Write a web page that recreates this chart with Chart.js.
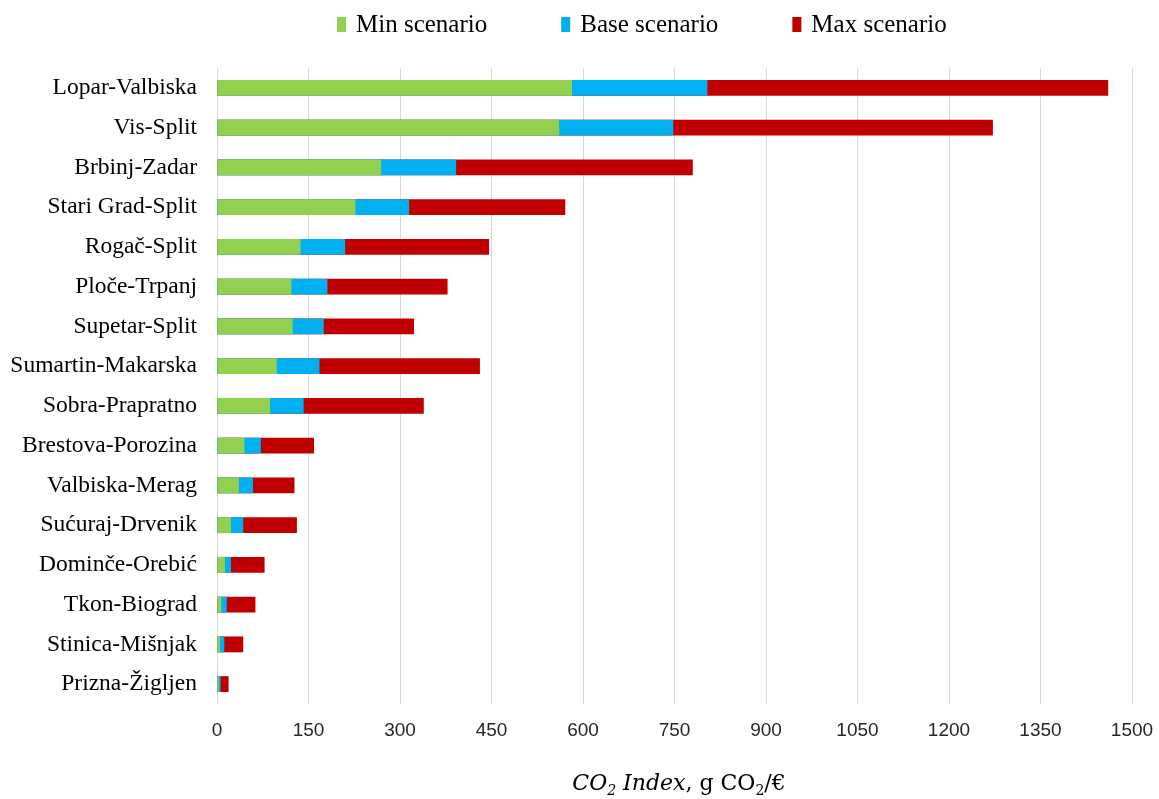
<!DOCTYPE html>
<html>
<head>
<meta charset="utf-8">
<script src="https://cdn.jsdelivr.net/npm/chart.js@4"></script>
<style>
  html, body { margin: 0; padding: 0; background: #fff; }
  #wrap { width: 1159px; height: 799px; }
</style>
</head>
<body>
<div id="wrap"><canvas id="co2Chart" width="1159" height="799"></canvas></div>
<script>
        const routes = [
            "Lopar-Valbiska", "Vis-Split", "Brbinj-Zadar", "Stari Grad-Split",
            "Rogač-Split", "Ploče-Trpanj", "Supetar-Split", "Sumartin-Makarska",
            "Sobra-Prapratno", "Brestova-Porozina", "Valbiska-Merag", "Sućuraj-Drvenik",
            "Dominče-Orebić", "Tkon-Biograd", "Stinica-Mišnjak", "Prizna-Žigljen"
        ];
        const minScenario  = [582, 561, 269, 227, 137, 122, 124, 98, 87, 45, 36, 23, 13, 7, 5, 3];
        const baseScenario = [804, 748, 392, 315, 210, 181, 175, 168, 142, 72, 59, 43, 23, 16, 12, 6];
        const maxScenario  = [1461, 1272, 780, 571, 446, 378, 323, 431, 339, 159, 127, 131, 78, 63, 43, 19];
        const xTicks = [0, 150, 300, 450, 600, 750, 900, 1050, 1200, 1350, 1500];

        const serif = "'Liberation Serif', 'Times New Roman', serif";

        // legend drawn by hand so the item spacing matches the original
        const topLegend = {
            id: 'topLegend',
            afterDraw(chart) {
                const ctx = chart.ctx;
                ctx.save();
                ctx.font = "25px " + serif;
                ctx.textBaseline = "alphabetic";
                let x = 337;
                chart.data.datasets.forEach(ds => {
                    ctx.fillStyle = ds.backgroundColor;
                    ctx.fillRect(x, 17, 9, 15);
                    ctx.fillStyle = "#000";
                    ctx.fillText(ds.label, x + 19, 32);
                    x += 19 + ctx.measureText(ds.label).width + 74;
                });
                ctx.restore();
            }
        };

        // x axis title with italic part and subscripts
        const axisTitle = {
            id: 'axisTitle',
            afterDraw(chart) {
                const ctx = chart.ctx;
                const tf = "'DejaVu Serif', serif";
                const parts = [
                    { t: "CO", f: "italic 22px " + tf, dy: 0 },
                    { t: "2", f: "italic 14px " + tf, dy: 5 },
                    { t: " Index", f: "italic 22px " + tf, dy: 0 },
                    { t: ", g CO", f: "22px " + tf, dy: 0 },
                    { t: "2", f: "14px " + tf, dy: 5 },
                    { t: "/€", f: "22px " + tf, dy: 0 }
                ];
                ctx.save();
                ctx.textBaseline = "alphabetic";
                let total = 0;
                parts.forEach(p => { ctx.font = p.f; p.w = ctx.measureText(p.t).width; total += p.w; });
                let x = 679 - total / 2;
                ctx.fillStyle = "#000";
                parts.forEach(p => {
                    ctx.font = p.f;
                    ctx.fillText(p.t, x, 790 + p.dy);
                    x += p.w;
                });
                ctx.restore();
            }
        };

        const ctx = document.getElementById('co2Chart').getContext('2d');
        window.myChart = new Chart(ctx, {
            type: 'bar',
            data: {
                labels: routes,
                datasets: [
                    { label: 'Min scenario', data: minScenario, backgroundColor: '#92D050' },
                    { label: 'Base scenario', data: baseScenario, backgroundColor: '#00B0F0' },
                    { label: 'Max scenario', data: maxScenario, backgroundColor: '#C00000' }
                ]
            },
            options: {
                indexAxis: 'y',
                responsive: false,
                animation: false,
                layout: { padding: { top: 68, right: 27, left: 0, bottom: 0 } },
                datasets: {
                    bar: { grouped: false, barPercentage: 0.4, categoryPercentage: 1.0 }
                },
                plugins: {
                    legend: { display: false },
                    tooltip: { enabled: false }
                },
                scales: {
                    x: {
                        min: 0,
                        max: 1500,
                        afterBuildTicks(scale) {
                            scale.ticks = xTicks.map(v => ({ value: v }));
                        },
                        afterFit(scale) {
                            scale.height = 95;
                            // keep the label padding from pushing the plot edge in
                            scale.paddingRight = 0;
                            scale.paddingLeft = 0;
                        },
                        grid: { color: '#d9d9d9', lineWidth: 1, drawTicks: false },
                        border: { display: false },
                        ticks: {
                            padding: 15,
                            color: '#262626',
                            callback: v => String(v),
                            font: { family: "'Liberation Sans', Arial, sans-serif", size: 19 }
                        }
                    },
                    y: {
                        afterFit(scale) { scale.width = 217; },
                        grid: { display: false, drawTicks: false },
                        border: { display: false },
                        ticks: {
                            padding: 20,
                            color: '#000',
                            font: { family: serif, size: 23.5 }
                        }
                    }
                }
            },
            plugins: [topLegend, axisTitle]
        });
</script>
</body>
</html>
